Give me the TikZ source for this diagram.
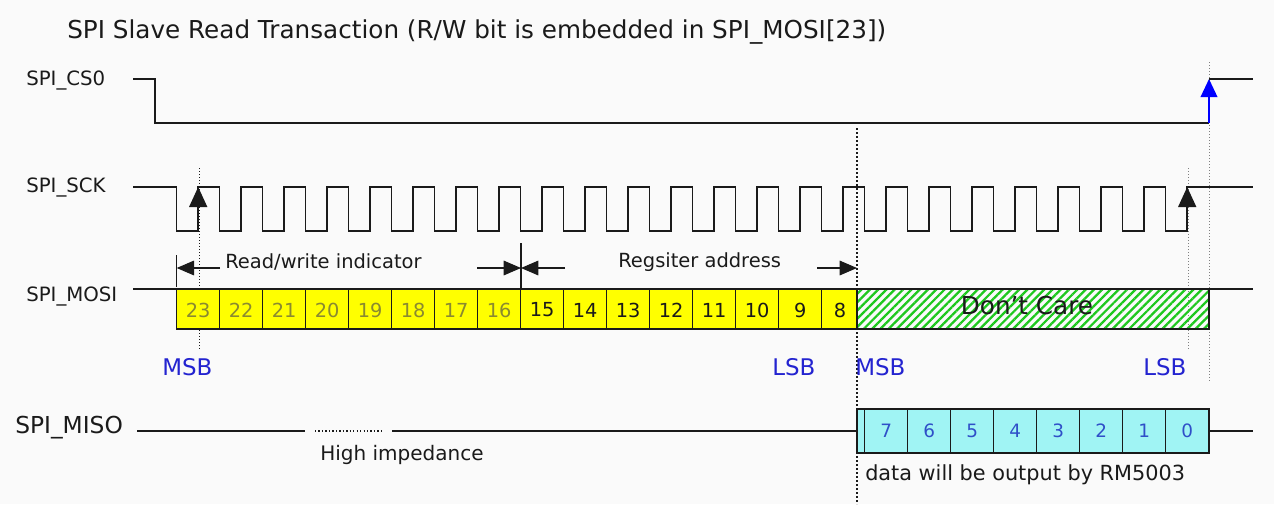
\documentclass[tikz,border=0pt]{standalone}
\usepackage{fontspec}
\setmainfont{DejaVu Sans}
\usetikzlibrary{arrows.meta,patterns.meta}
\definecolor{bgc}{HTML}{FAFAFA}
\definecolor{ink}{HTML}{1A1A1A}
\definecolor{cellyellow}{HTML}{FFFF00}
\definecolor{olivetext}{HTML}{8A8A30}
\definecolor{hatchgreen}{HTML}{1EC81E}
\definecolor{misocyan}{HTML}{A0F4F4}
\definecolor{misonum}{HTML}{2F4FC8}
\definecolor{bitblue}{HTML}{2323D0}
\definecolor{csblue}{HTML}{0000FF}
\definecolor{guidegray}{HTML}{808080}
\begin{document}
\begin{tikzpicture}[x=0.75pt,y=-0.75pt,
  sig/.style={line width=1.1pt, ink},
  bus/.style={line width=2pt, ink},
  cellline/.style={line width=0.9pt, ink},
  sigtxt/.style={anchor=base west, inner sep=0pt, text=ink, font=\fontsize{14.8}{17}\selectfont},
  note/.style={anchor=base west, inner sep=0pt, text=ink, font=\fontsize{14.6}{17}\selectfont},
  bitlbl/.style={anchor=base west, inner sep=0pt, text=bitblue, font=\fontsize{17.2}{20}\selectfont},
  num/.style={inner sep=0pt, font=\fontsize{14.5}{16}\selectfont},
  misonumstyle/.style={inner sep=0pt, text=misonum, font=\fontsize{13.8}{16}\selectfont},
  dimarrow/.style={line width=0.8pt, ink, -{Triangle[length=13pt,width=11pt]}},
  edgearrow/.style={line width=1.1pt, ink, -{Triangle[length=15pt,width=13.5pt]}},
  finedot/.style={line width=0.6pt, ink, dash pattern=on 0.75pt off 1.5pt},
  bolddot/.style={line width=1.6pt, ink, dash pattern=on 1.6pt off 1.4pt},
  graydot/.style={line width=0.6pt, guidegray, dash pattern=on 0.75pt off 1.5pt}]
\fill[bgc] (0,0) rectangle (1274,504);
\useasboundingbox (0,0) rectangle (1274,504);

% title
\node[anchor=base west, inner sep=0pt, text=ink, font=\fontsize{18.5}{22}\selectfont] (title) at (67,38)
  {SPI Slave Read Transaction (R/W bit is embedded in SPI\_MOSI[23])};

% signal labels
\node[sigtxt] (lcs) at (26,85) {SPI\_CS0};
\node[sigtxt] (lsck) at (26,192) {SPI\_SCK};
\node[sigtxt] (lmosi) at (26,301) {SPI\_MOSI};
\node[sigtxt, font=\fontsize{17.5}{20}\selectfont] (lmiso) at (15,433) {SPI\_MISO};

% guide lines
\draw[finedot] (199,168) -- (199,350);
\draw[graydot] (1188,168) -- (1188,350);
\draw[graydot] (1209,62) -- (1209,382);

% CS0
\coordinate (csend) at (1209,123);
\coordinate (cshigh) at (1209,79);
\draw[sig] (133,79) -- (155,79) -- (155,123) -- (csend);
\draw[line width=1.1pt, csblue, -{Triangle[length=13.5pt,width=12.5pt]}] (csend) -- (cshigh);
\draw[sig] (cshigh) -- (1253,79);

% SCK
\draw[sig] (133,187)
  \foreach \k in {0,...,23}{ -- ({176.7+43*\k},187) -- ({176.7+43*\k},231) -- ({198.2+43*\k},231) -- ({198.2+43*\k},187)}
  -- (1253,187);
\coordinate (r0lo) at (198.2,231);
\coordinate (r0hi) at (198.2,187);
\coordinate (r23lo) at (1187.2,231);
\coordinate (r23hi) at (1187.2,187);
\draw[edgearrow] (r0lo) -- (r0hi);
\draw[edgearrow] (r23lo) -- (r23hi);

% dimension row
\coordinate (t1a) at (176.7,255); \coordinate (t1b) at (176.7,287);
\coordinate (t2a) at (521,243);   \coordinate (t2b) at (521,288);
\draw[line width=0.8pt, ink] (t1a) -- (t1b);
\draw[line width=0.8pt, ink] (t2a) -- (t2b);
\coordinate (a1s) at (220,268); \coordinate (a1e) at (176.7,268);
\coordinate (a2s) at (477,268); \coordinate (a2e) at (521,268);
\coordinate (a3s) at (565,268); \coordinate (a3e) at (521,268);
\coordinate (a4s) at (817,268); \coordinate (a4e) at (857,268);
\draw[dimarrow] (a1s) -- (a1e);
\draw[dimarrow] (a2s) -- (a2e);
\draw[dimarrow] (a3s) -- (a3e);
\draw[dimarrow] (a4s) -- (a4e);
\node[note] (rw) at (225,268) {Read/write indicator};
\node[note] (ra) at (618,267) {Regsiter address};

% MOSI
\draw[sig] (133,289) -- (176.7,289);
\fill[cellyellow] (176.7,289) rectangle (857,329);
\foreach \i in {1,...,15}{ \draw[cellline] ({176.7+43*\i},289) -- ({176.7+43*\i},329); }
\draw[cellline] (176.7,289) rectangle (857,329);
\foreach \b [count=\i from 0] in {23,22,21,20,19,18,17,16}{
  \node[num, text=olivetext] (m\b) at ({198.2+43*\i},310) {\b};
}
\foreach \b [count=\i from 8] in {15,14,13,12,11,10,9}{
  \node[num, text=ink] (m\b) at ({198.2+43*\i},310) {\b};
}
\node[num, text=ink] (m8) at (840,310) {8};
\fill[pattern={Lines[angle=45,distance=4.4pt,line width=1.7pt]}, pattern color=hatchgreen] (857,289) rectangle (1209,329);
\draw[cellline] (857,289) rectangle (1209,329);
\node[inner sep=0pt, text=ink, font=\fontsize{18.5}{20}\selectfont] (dc) at (1027,306) {Don’t Care};
\draw[sig] (1209,289) -- (1253,289);

% bold dotted divider
\draw[bolddot] (857,128) -- (857,504);

% MSB / LSB labels
\node[bitlbl] (msb1) at (162,375) {MSB};
\node[bitlbl] (lsb1) at (772,375) {LSB};
\node[bitlbl] (msb2) at (855,375) {MSB};
\node[bitlbl] (lsb2) at (1143,375) {LSB};

% MISO
\draw[bus] (137,431) -- (305,431);
\draw[line width=1.3pt, ink, dash pattern=on 1pt off 1.6pt] (315,431) -- (383,431);
\draw[bus] (392,431) -- (857,431);
\fill[misocyan] (857,409) rectangle (1209,453);
\foreach \k in {0,...,7}{ \draw[cellline] ({864.7+43*\k},409) -- ({864.7+43*\k},453); }
\draw[cellline] (857,409) rectangle (1209,453);
\foreach \b [count=\i from 0] in {7,6,5,4,3,2,1,0}{
  \node[misonumstyle] (s\b) at ({886.2+43*\i},431) {\b};
}
\draw[bus] (1209,431) -- (1253,431);
\node[note, font=\fontsize{15}{17}\selectfont] (hiz) at (320,460) {High impedance};
\node[note, font=\fontsize{15.6}{18}\selectfont] (dout) at (865,480) {data will be output by RM5003};
\end{tikzpicture}
\end{document}
